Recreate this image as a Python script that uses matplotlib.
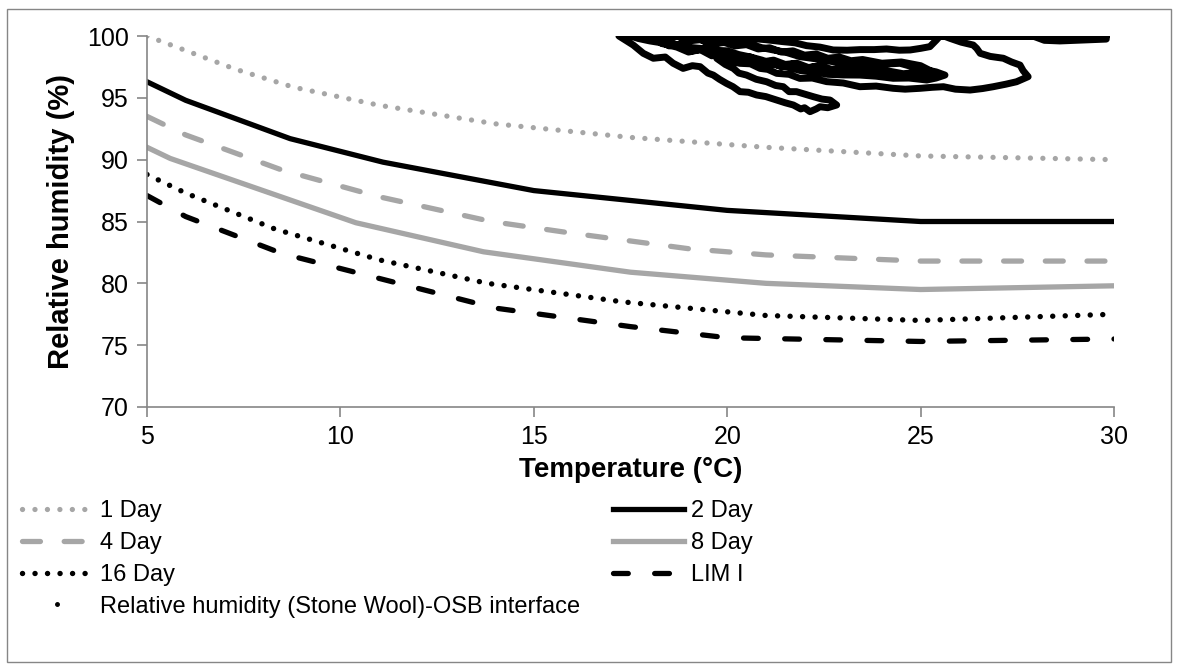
import matplotlib
matplotlib.use("Agg")
import matplotlib.pyplot as plt
from matplotlib.lines import Line2D
from matplotlib.patches import Rectangle

plt.rcParams['font.family'] = ['Liberation Sans', 'DejaVu Sans']

# ---- data ----
day1_T = [5, 7.3, 8.8, 11, 14, 17.5, 21, 25, 30]
day1_RH = [100.0, 97.3, 95.85, 94.4, 92.9, 91.8, 91.0, 90.3, 90.0]

day2_T = [5, 6, 8.7, 11.1, 15, 20, 25, 30]
day2_RH = [96.3, 94.8, 91.7, 89.8, 87.5, 85.9, 85.0, 85.0]

day4_T = [5, 6, 8.5, 11, 13.9, 16, 19, 21, 25, 30]
day4_RH = [93.5, 92.0, 89.15, 87.0, 85.0, 84.05, 82.8, 82.3, 81.8, 81.8]

day8_T = [5, 5.6, 10.4, 13.7, 17.5, 21, 25, 30]
day8_RH = [91.0, 90.1, 84.9, 82.55, 80.9, 80.0, 79.5, 79.8]

day16_T = [5, 6, 8.3, 11, 13.8, 17.3, 21, 25, 30]
day16_RH = [88.8, 87.3, 84.4, 81.9, 80.0, 78.5, 77.4, 77.0, 77.5]

lim_T = [5, 6, 8.5, 11.5, 14, 17.5, 20, 25, 30]
lim_RH = [87.1, 85.4, 82.4, 80.0, 78.0, 76.5, 75.6, 75.3, 75.5]

# measured RH at (Stone Wool)-OSB interface (traced path)
stone_T = [29.8, 17.2,
           17.4, 17.57, 17.83, 18.09, 18.4, 18.6, 18.86, 19.1, 19.3, 19.5, 19.64, 19.8, 19.98, 20.15,
           20.33, 20.55, 20.76, 21.0, 21.28, 21.5, 21.71, 21.9, 22.0, 22.14, 22.3, 22.4, 22.6, 22.83,
           22.66, 22.45, 22.23, 22.0, 21.79, 21.6, 21.45, 21.25, 21.02, 20.75, 20.5, 20.3, 20.16,
           19.95, 19.73,
           20.0, 20.33, 20.6, 20.85, 21.05, 21.28, 21.6, 21.88, 22.2, 22.57, 23.0, 23.43, 23.85, 24.29,
           24.6, 24.99, 25.3, 25.59, 25.9, 26.28, 26.6, 26.88, 27.2, 27.48, 27.78, 27.65, 27.57, 27.35,
           27.14, 26.8, 26.54, 26.45, 26.36, 26.05, 25.76, 25.6,
           20.2, 20.59, 21.0, 21.45, 21.75, 22.05, 22.4, 22.74, 23.1, 23.43, 23.8, 24.12, 24.45, 24.73,
           25.0, 25.24, 25.41, 25.5,
           19.2, 19.55, 19.85, 20.16, 20.4, 20.67, 20.9, 21.19, 21.5, 21.88, 22.3, 22.74, 23.1, 23.43,
           23.7, 23.95, 24.2, 24.47, 24.8, 25.16, 25.4, 25.63, 25.4, 25.16, 24.7, 24.29, 23.85, 23.43,
           23.0, 22.6, 22.25, 21.9, 21.55, 21.2, 20.9, 20.6, 20.3, 20.0, 19.65, 19.3, 18.95, 18.6, 18.3,
           18.0, 17.7, 17.5,
           27.9, 28.2, 28.6, 29.0, 29.4, 29.8, 29.8,
           18.0,
           18.2, 18.5, 18.8, 19.1, 19.4, 19.7, 20.0, 20.3, 20.6, 20.9, 21.2, 21.5, 21.8, 22.1, 22.4,
           22.7, 23.0, 23.3, 23.6, 23.9, 24.2, 24.55, 24.9, 25.2, 25.5,
           25.0, 24.5, 24.0, 23.5, 23.2, 22.9, 22.6, 22.3, 22.0, 21.7, 21.4, 21.1, 20.8, 20.5, 20.2,
           19.9, 19.6, 19.3, 19.0, 18.7,
           18.3, 18.7, 19.0, 19.3, 19.6, 19.9, 20.2, 20.5, 20.8, 21.1, 21.4, 21.7, 22.0, 22.3]
stone_RH = [100.0, 100.0,
            99.6, 99.27, 98.6, 98.2, 98.3, 97.8, 97.38, 97.6, 97.52, 97.0, 96.84, 96.5, 96.17, 95.9,
            95.5, 95.45, 95.23, 95.1, 94.82, 94.6, 94.42, 94.1, 94.2, 93.88, 94.1, 94.28, 94.2, 94.42,
            94.82, 94.9, 95.09, 95.3, 95.5, 95.5, 95.9, 96.0, 96.3, 96.5, 96.84, 97.0, 97.38,
            97.7, 98.19,
            98.0, 97.79, 97.75, 97.38, 97.3, 96.98, 96.9, 96.57, 96.6, 96.31, 96.2, 95.9, 95.95, 95.77,
            95.7, 95.77, 95.85, 95.9, 95.7, 95.63, 95.75, 95.9, 96.1, 96.3, 96.71, 97.2, 97.65, 97.9,
            98.2, 98.35, 98.6, 99.0, 99.27, 99.5, 99.81, 100.0,
            100.0, 99.81, 99.7, 99.54, 99.45, 99.22, 99.1, 98.87, 98.85, 98.9, 98.9, 98.95, 98.85, 98.87,
            99.0, 99.14, 99.68, 100.0,
            100.0, 99.27, 99.45, 99.54, 99.35, 99.27, 99.05, 98.87, 98.7, 98.33, 98.15, 97.92, 97.8, 97.65,
            97.7, 97.52, 97.75, 97.79, 97.5, 97.25, 97.1, 96.84, 96.6, 96.44, 96.6, 96.58, 96.75, 96.84,
            96.85, 96.9, 97.1, 97.2, 97.5, 97.7, 98.05, 98.3, 98.5, 98.8, 98.85, 99.0, 99.1, 99.3, 99.45,
            99.6, 99.8, 100.0,
            100.0, 99.65, 99.6, 99.65, 99.7, 99.75, 100.0,
            100.0,
            99.7, 99.2, 99.35, 98.8, 98.95, 98.5, 98.6, 98.2, 98.3, 97.9, 98.05, 97.7, 97.8, 97.45, 97.6,
            97.3, 97.4, 97.15, 97.25, 97.0, 97.15, 96.95, 97.05, 96.85, 96.8,
            97.6, 97.9, 97.8, 98.1, 98.0, 98.3, 98.2, 98.55, 98.45, 98.8, 98.7, 99.05, 98.95, 99.3, 99.2,
            99.5, 99.4, 99.7, 99.6, 100.0,
            99.4, 99.1, 98.7, 98.9, 98.4, 98.6, 98.0, 98.25, 97.7, 97.95, 97.5, 97.75, 97.35, 97.55]

x_ticks = [5, 10, 15, 20, 25, 30]
y_ticks = [70, 75, 80, 85, 90, 95, 100]

GRAY = '#A6A6A6'
AXG = '#868686'

fig = plt.figure(figsize=(11.79, 6.64), dpi=100)
ax = fig.add_axes([147/1179, 1 - 407/664, (1114-147)/1179, (407-36)/664])

l1, = ax.plot(day1_T, day1_RH, color=GRAY, lw=3.8, ls=(0, (0.01, 2.35)),
              dash_capstyle='round', label='1 Day')
l2, = ax.plot(day2_T, day2_RH, color='black', lw=3.8, label='2 Day', solid_joinstyle='round')
l4, = ax.plot(day4_T, day4_RH, color=GRAY, lw=3.8, ls=(0, (3.4, 4.5)),
              dash_capstyle='round', label='4 Day')
l8, = ax.plot(day8_T, day8_RH, color=GRAY, lw=3.8, label='8 Day', solid_joinstyle='round')
l16, = ax.plot(day16_T, day16_RH, color='black', lw=3.9, ls=(0, (0.01, 2.3)),
               dash_capstyle='round', label='16 Day')
lL, = ax.plot(lim_T, lim_RH, color='black', lw=3.8, ls=(0, (2.8, 5.0)),
              dash_capstyle='round', label='LIM I')
ax.plot(stone_T, stone_RH, color='black', lw=5.0, solid_joinstyle='round',
        solid_capstyle='round', zorder=4)
stone_handle = Line2D([], [], ls='none', marker='o', ms=2.5, color='black',
                      label='Relative humidity (Stone Wool)-OSB interface')

ax.set_xlim(5, 30)
ax.set_ylim(70, 100)
ax.set_xticks(x_ticks)
ax.set_yticks(y_ticks)
for s in ['top', 'right']:
    ax.spines[s].set_visible(False)
for s in ['left', 'bottom']:
    ax.spines[s].set_color(AXG)
    ax.spines[s].set_linewidth(1.2)
ax.tick_params(axis='both', direction='out', length=7, width=1.2, color=AXG,
               labelsize=18, labelcolor='black', pad=6)
ax.set_xlabel('Temperature (°C)', fontsize=20, fontweight='bold', labelpad=6)
ax.set_ylabel('Relative humidity (%)', fontsize=21, fontweight='bold', labelpad=9)
ax.patch.set_visible(False)

leg_kw = dict(loc='upper left', frameon=False, fontsize=17, handlelength=3.0,
              handletextpad=0.3, labelspacing=0.42, borderpad=0, borderaxespad=0)
leg1 = fig.legend(handles=[l1, l4, l16, stone_handle], bbox_to_anchor=(22/1179, 1 - 500/664), **leg_kw)
leg2 = fig.legend(handles=[l2, l8, lL], bbox_to_anchor=(613/1179, 1 - 500/664), **leg_kw)

fig.add_artist(Rectangle((7/1179, 2/664), 1164/1179, 653/664, transform=fig.transFigure,
                         fill=False, edgecolor=AXG, lw=1.0))

fig.savefig('out.png', dpi=100)
